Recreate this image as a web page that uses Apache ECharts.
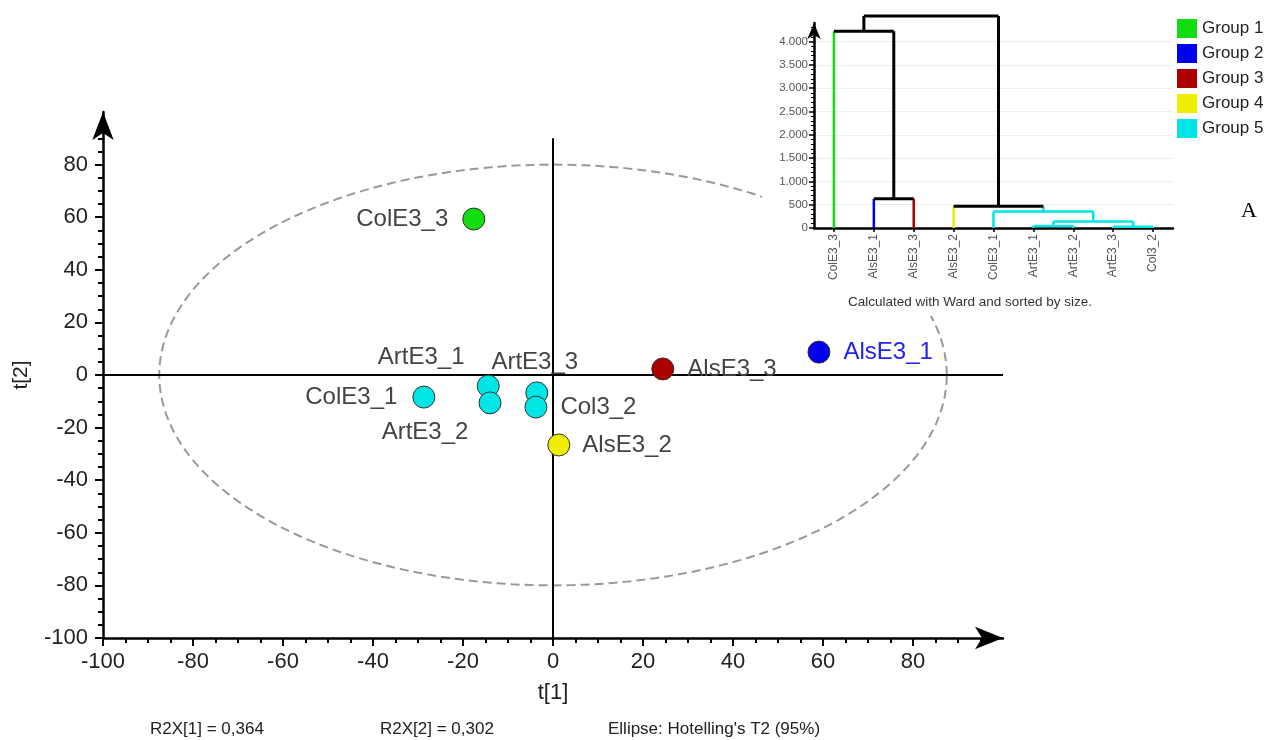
<!DOCTYPE html>
<html>
<head>
<meta charset="utf-8">
<script src="https://cdn.jsdelivr.net/npm/echarts@6/dist/echarts.min.js"></script>
<style>
html,body{margin:0;padding:0;background:#fff;}
#chart{width:1280px;height:740px;}
</style>
</head>
<body>
<div id="chart"></div>
<script>
// ---------- Score plot data ----------
const pointNames = ['ColE3_3','ArtE3_1','ArtE3_3','ColE3_1','ArtE3_2','Col3_2','AlsE3_2','AlsE3_3','AlsE3_1'];
const t1Values   = [-17.6, -14.4, -3.6, -28.7, -14.0, -3.8, 1.3, 24.4, 59.1];
const t2Values   = [59.3, -4.2, -6.8, -8.4, -10.6, -12.2, -26.6, 2.3, 8.7];
const pointGroup = [1, 5, 5, 5, 5, 5, 4, 3, 2];

const groupNames  = ['Group 1','Group 2','Group 3','Group 4','Group 5'];
const groupColors = ['#11dd11','#0000ee','#aa0000','#eeee00','#00e5e5'];

// Hotelling's T2 ellipse semi-axes (t[1], t[2])
const ellipseA = 87.5;
const ellipseB = 80;

const axisTicks = [-100,-80,-60,-40,-20,0,20,40,60,80];
const footerTexts = ['R2X[1] = 0,364','R2X[2] = 0,302',"Ellipse: Hotelling's T2 (95%)"];

// ---------- Dendrogram data ----------
const leaves     = ['ColE3_3','AlsE3_1','AlsE3_3','AlsE3_2','ColE3_1','ArtE3_1','ArtE3_2','ArtE3_3','Col3_2'];
const leafGroup  = [1, 2, 3, 4, 5, 5, 5, 5, 5];
// merges: [leftChild, rightChild, height]; children: leaf index (number) or 'mK' (merge index K)
const merges = [
  [7, 8, 25],          // m0
  [5, 6, 45],          // m1
  ['m1', 'm0', 140],   // m2
  [4, 'm2', 355],      // m3
  [3, 'm3', 465],      // m4
  [1, 2, 630],         // m5
  [0, 'm5', 4225],     // m6
  ['m6', 'm4', 4550]   // m7
];
const dendroTicks = [0,500,1000,1500,2000,2500,3000,3500,4000];

// ---------- label placement (style) ----------
const labelPlacement = {
  'ColE3_3': {pos:'left', dist:14},
  'ColE3_1': {pos:'left', dist:15},
  'Col3_2':  {pos:'right', dist:13},
  'AlsE3_2': {pos:'right', dist:12},
  'AlsE3_3': {pos:'right', dist:13},
  'AlsE3_1': {pos:'right', dist:13, color:'#2222ee'},
  'ArtE3_1': {offset:[-67,-29]},
  'ArtE3_3': {offset:[-2,-31]},
  'ArtE3_2': {offset:[-65,29]}
};

const FONT = 'Liberation Sans, Arial, sans-serif';

function labelFor(name){
  const p = labelPlacement[name];
  const base = {show:true, fontSize:24, fontFamily:FONT, color:p.color || '#444', formatter:'{b}'};
  if (p.pos) return Object.assign(base, {position:p.pos, distance:p.dist});
  return Object.assign(base, {position:'inside', offset:p.offset});
}

// scatter series per group
const scatterSeries = groupNames.map((g, gi) => ({
  name: g,
  type: 'scatter',
  xAxisIndex: 0, yAxisIndex: 0,
  symbolSize: 22,
  itemStyle: {color: groupColors[gi], borderColor:'#333', borderWidth:1, opacity:1},
  z: 5,
  data: pointNames.map((n, i) => ({n, i})).filter(o => pointGroup[o.i] === gi + 1).map(o => ({
    name: o.n,
    value: [t1Values[o.i], t2Values[o.i]],
    label: labelFor(o.n)
  }))
}));

// ellipse
const ellipsePts = [];
for (let k = 0; k <= 240; k++) {
  const a = 2 * Math.PI * k / 240;
  ellipsePts.push([ellipseA * Math.cos(a), ellipseB * Math.sin(a)]);
}
const ellipseSeries = {
  type:'line', xAxisIndex:0, yAxisIndex:0, data: ellipsePts, symbol:'none', silent:true,
  lineStyle:{color:'#999', width:2, type:[9,5]}, z:1,
  markLine:{
    silent:true, symbol:'none', label:{show:false},
    lineStyle:{color:'#000', width:2, type:'solid'},
    data:[
      [{coord:[-100,0]},{coord:[100,0]}],
      [{coord:[0,-100]},{coord:[0,90]}]
    ]
  }
};

// dendrogram segments
const nodePos = [];
function child(c){
  if (typeof c === 'number') return {x:c, y:0, group:leafGroup[c]};
  return nodePos[parseInt(c.slice(1))];
}
const dendroSeries = [];
function seg(p1, p2, color){
  const black = color === '#000';
  dendroSeries.push({
    type:'line', xAxisIndex:2, yAxisIndex:1, data:[p1, p2], symbol:'none', clip:false, silent:true,
    lineStyle:{color, width: black ? 3 : 2.5}, zlevel:1, z:3, animation:false
  });
}
merges.forEach((m) => {
  const L = child(m[0]), R = child(m[1]), h = m[2];
  const same = L.group && L.group === R.group;
  const colL = L.group ? groupColors[L.group-1] : '#000';
  const colR = R.group ? groupColors[R.group-1] : '#000';
  const top = same ? groupColors[L.group-1] : '#000';
  seg([L.x, L.y], [L.x, h], same ? top : colL);
  seg([R.x, R.y], [R.x, h], same ? top : colR);
  seg([L.x, h], [R.x, h], top);
  nodePos.push({x:(L.x + R.x)/2, y:h, group: same ? L.group : 0});
});

const option = {
  animation:false,
  backgroundColor:'#fff',
  textStyle:{fontFamily:FONT},
  grid:[
    {left:103, top:112, width:900, height:526, containLabel:false, outerBoundsMode:'none'},
    {left:814, top:23, width:359, height:205, containLabel:false, outerBoundsMode:'none'}
  ],
  legend:{
    data: groupNames, orient:'vertical', left:1172, top:14,
    itemWidth:20, itemHeight:19, itemGap:6, icon:'rect',
    textStyle:{fontSize:17, color:'#222', fontFamily:FONT},
    itemStyle:{borderWidth:0},
    zlevel:1, selectedMode:false
  },
  xAxis:[
    {
      type:'value', gridIndex:0, min:-100, max:100, interval:20,
      axisLine:{show:true, onZero:false, symbol:['none','arrow'], symbolSize:[17,28], lineStyle:{color:'#000', width:2.5}},
      axisTick:{show:true, length:8, customValues: axisTicks, lineStyle:{color:'#000', width:2}},
      minorTick:{show:true, splitNumber:4, length:5, lineStyle:{color:'#000', width:2}},
      splitLine:{show:false},
      axisLabel:{fontSize:22, color:'#222', margin:13, fontFamily:FONT,
        formatter: v => axisTicks.includes(v) ? String(v) : ''},
      name:'t[1]', nameLocation:'middle', nameGap:44,
      nameTextStyle:{fontSize:22, color:'#222', fontFamily:FONT}
    },
    {
      type:'category', gridIndex:1, data: leaves, zlevel:1, z:2,
      axisLine:{show:true, onZero:false, lineStyle:{color:'#000', width:2.5}},
      axisTick:{show:true, alignWithLabel:true, length:4, lineStyle:{color:'#000', width:1.5}},
      axisLabel:{rotate:90, fontSize:12, color:'#555', margin:6, fontFamily:FONT},
      splitLine:{show:false}
    },
    {
      type:'value', gridIndex:1, min:-0.5, max:8.5, show:false,
      axisLine:{onZero:false}
    }
  ],
  yAxis:[
    {
      type:'value', gridIndex:0, min:-100, max:100, interval:20,
      axisLine:{show:true, onZero:false, symbol:['none','arrow'], symbolSize:[16,28], lineStyle:{color:'#000', width:2.5}},
      axisTick:{show:true, length:8, customValues: axisTicks, lineStyle:{color:'#000', width:2}},
      minorTick:{show:true, splitNumber:4, length:5, lineStyle:{color:'#000', width:2}},
      splitLine:{show:false},
      axisLabel:{fontSize:22, color:'#222', margin:15, fontFamily:FONT,
        formatter: v => axisTicks.includes(v) ? String(v) : ''},
      name:'t[2]', nameLocation:'middle', nameGap:71,
      nameTextStyle:{fontSize:21, color:'#222', fontFamily:FONT}
    },
    {
      type:'value', gridIndex:1, min:0, max:4400, interval:500, zlevel:1, z:2,
      axisLine:{show:true, onZero:false, symbol:['none','arrow'], symbolSize:[10,16], lineStyle:{color:'#000', width:2.5}},
      axisTick:{show:true, length:5, customValues: dendroTicks, lineStyle:{color:'#000', width:1.5}},
      minorTick:{show:true, splitNumber:5, length:3, lineStyle:{color:'#000', width:1}},
      splitLine:{show:true, lineStyle:{color:'#eee', width:1}},
      axisLabel:{fontSize:11.5, color:'#555', margin:6, fontFamily:FONT,
        formatter: v => dendroTicks.includes(v) ? v.toLocaleString('de-DE') : ''}
    }
  ],
  graphic:[
    {type:'rect', zlevel:1, z:0, shape:{x:762, y:0, width:414, height:316}, style:{fill:'#fff'}, silent:true},
    {type:'text', zlevel:1, z:5, x:970, y:302, style:{text:'Calculated with Ward and sorted by size.', font:'13.5px ' + FONT, fill:'#333', textAlign:'center', textVerticalAlign:'middle'}},
    {type:'text', x:150, y:729, style:{text:footerTexts[0], font:'17px ' + FONT, fill:'#222', textVerticalAlign:'middle'}},
    {type:'text', x:380, y:729, style:{text:footerTexts[1], font:'17px ' + FONT, fill:'#222', textVerticalAlign:'middle'}},
    {type:'text', x:608, y:729, style:{text:footerTexts[2], font:'17px ' + FONT, fill:'#222', textVerticalAlign:'middle'}},
    {type:'text', x:1241, y:211, style:{text:'A', font:'22px Liberation Serif, Times New Roman, serif', fill:'#000', textVerticalAlign:'middle'}}
  ],
  series:[ellipseSeries].concat(scatterSeries, dendroSeries)
};

const chart = echarts.init(document.getElementById('chart'), null, {renderer:'canvas'});
chart.setOption(option);
</script>
</body>
</html>
